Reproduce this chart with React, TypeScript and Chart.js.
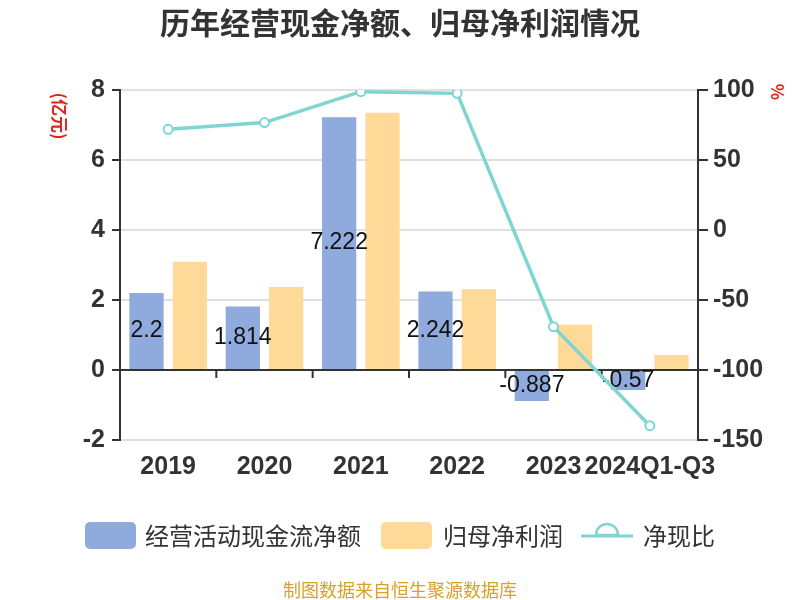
import React, { useEffect, useRef } from "react";
import { Chart, registerables } from "chart.js";

Chart.register(...registerables);

const titleText = "历年经营现金净额、归母净利润情况";
const categories = ["2019", "2020", "2021", "2022", "2023", "2024Q1-Q3"];
const cashFlowLabel = "经营活动现金流净额";
const netProfitLabel = "归母净利润";
const ratioLabel = "净现比";
const cashFlow = [2.2, 1.814, 7.222, 2.242, -0.887, -0.57];
const netProfit = [3.09, 2.37, 7.35, 2.31, 1.29, 0.43];
const cashRatio = [71.9, 76.7, 98.8, 97.6, -69.1, -139.8];
const leftAxisRange = [-2, 8, 2];
const rightAxisRange = [-150, 100, 50];
const leftUnit = "(亿元)";
const rightUnit = "%";
const footerText = "制图数据来自恒生聚源数据库";

const BLUE = "#8faadc";
const ORANGE = "#ffd998";
const TEAL = "#7fd5d2";
const DARK = "#333333";
const GRID = "#e0e0e0";
const NUM_FONT = '"Liberation Sans", Arial, sans-serif';
const CJK_FONT = '"Noto Sans CJK SC", "Noto Sans", sans-serif';

const decorPlugin = {
  id: "decor",
  beforeDatasetsDraw(chart: any) {
    const ctx = chart.ctx;
    const xs = chart.scales.x;
    const ys = chart.scales.y;
    const y0 = ys.getPixelForValue(0);
    ctx.save();
    ctx.strokeStyle = DARK;
    ctx.lineWidth = 2;
    for (let i = 1; i < categories.length; i++) {
      const x = (xs.getPixelForValue(i - 1) + xs.getPixelForValue(i)) / 2;
      ctx.beginPath();
      ctx.moveTo(x, y0);
      ctx.lineTo(x, y0 + 8);
      ctx.stroke();
    }
    ctx.restore();
  },
  afterDatasetDraw(chart: any, args: any) {
    if (args.index !== 0) return;
    const meta = chart.getDatasetMeta(0);
    const ctx = chart.ctx;
    ctx.save();
    ctx.font = `23px ${NUM_FONT}`;
    ctx.fillStyle = "#111111";
    ctx.textAlign = "center";
    ctx.textBaseline = "middle";
    meta.data.forEach((el: any, i: number) => {
      const p = el.getProps(["x", "y", "base"], true);
      ctx.fillText(String(cashFlow[i]), p.x, (p.y + p.base) / 2);
    });
    ctx.restore();
  },
  afterDraw(chart: any) {
    const ctx = chart.ctx;
    ctx.save();
    // title
    ctx.font = `bold 30px ${CJK_FONT}`;
    ctx.fillStyle = DARK;
    ctx.textAlign = "center";
    ctx.textBaseline = "middle";
    ctx.fillText(titleText, 400, 23);

    // unit labels (rotated)
    ctx.fillStyle = "#e3231b";
    ctx.font = `bold 17px ${CJK_FONT}`;
    ctx.save();
    ctx.translate(59, 116);
    ctx.rotate(Math.PI / 2);
    ctx.fillText(leftUnit, 0, 0);
    ctx.restore();
    ctx.save();
    ctx.translate(777, 92);
    ctx.rotate(Math.PI / 2);
    ctx.fillText(rightUnit, 0, 0);
    ctx.restore();

    // legend
    const ly = 535.5;
    const rr = (x: number, y: number, w: number, h: number, r: number, c: string) => {
      ctx.fillStyle = c;
      ctx.beginPath();
      if (ctx.roundRect) ctx.roundRect(x, y, w, h, r);
      else ctx.rect(x, y, w, h);
      ctx.fill();
    };
    ctx.textAlign = "left";
    ctx.textBaseline = "middle";
    ctx.font = `24px ${CJK_FONT}`;
    rr(85, 522, 51, 27, 5, BLUE);
    ctx.fillStyle = DARK;
    ctx.fillText(cashFlowLabel, 145, ly);
    rr(381, 522, 51, 27, 5, ORANGE);
    ctx.fillStyle = DARK;
    ctx.fillText(netProfitLabel, 443, ly);
    // line icon
    ctx.strokeStyle = TEAL;
    ctx.lineWidth = 3;
    ctx.beginPath();
    ctx.moveTo(581, 536);
    ctx.lineTo(633, 536);
    ctx.stroke();
    ctx.beginPath();
    ctx.arc(607, 535, 11, Math.PI, 0);
    ctx.closePath();
    ctx.fillStyle = "#ffffff";
    ctx.fill();
    ctx.lineWidth = 2.5;
    ctx.stroke();
    ctx.fillStyle = DARK;
    ctx.fillText(ratioLabel, 643, ly);

    // footer
    ctx.textAlign = "center";
    ctx.font = `18px ${CJK_FONT}`;
    ctx.fillStyle = "#d9a02a";
    ctx.fillText(footerText, 400, 590);
    ctx.restore();
  },
};

export default function App() {
  const canvasRef = useRef<HTMLCanvasElement | null>(null);

  useEffect(() => {
    if (!canvasRef.current) return;
    const chart = new Chart(canvasRef.current, {
      type: "bar",
      data: {
        labels: categories,
        datasets: [
          {
            type: "bar",
            label: cashFlowLabel,
            data: cashFlow,
            backgroundColor: BLUE,
            yAxisID: "y",
            order: 1,
            categoryPercentage: 0.9,
            barPercentage: 0.79,
          },
          {
            type: "bar",
            label: netProfitLabel,
            data: netProfit,
            backgroundColor: ORANGE,
            yAxisID: "y",
            order: 1,
            categoryPercentage: 0.9,
            barPercentage: 0.79,
          },
          {
            type: "line",
            label: ratioLabel,
            data: cashRatio,
            borderColor: TEAL,
            borderWidth: 3.5,
            pointRadius: 4.5,
            pointBackgroundColor: "#ffffff",
            pointBorderColor: TEAL,
            pointBorderWidth: 2,
            tension: 0,
            yAxisID: "y1",
            order: 0,
          } as any,
        ],
      },
      options: {
        responsive: false,
        animation: false,
        layout: { padding: { top: 90, left: 0, right: 0, bottom: 0 } },
        plugins: {
          legend: { display: false },
          tooltip: { enabled: false },
          title: { display: false },
        },
        scales: {
          x: {
            grid: { display: false },
            border: { display: false },
            ticks: {
              color: DARK,
              font: { size: 25, family: NUM_FONT, weight: "bold" },
              padding: 4,
              maxRotation: 0,
              autoSkip: false,
            },
            afterFit: (s: any) => {
              s.height = 160;
            },
          },
          y: {
            position: "left",
            min: leftAxisRange[0],
            max: leftAxisRange[1],
            ticks: {
              stepSize: leftAxisRange[2],
              color: DARK,
              font: { size: 25, family: NUM_FONT, weight: "bold" },
              padding: 7,
            },
            grid: {
              color: (c: any) => (c.tick && c.tick.value === 0 ? DARK : GRID),
              lineWidth: 2,
              tickColor: DARK,
              tickLength: 8,
            },
            border: { display: true, color: DARK, width: 2 },
            afterFit: (s: any) => {
              s.width = 120;
            },
          },
          y1: {
            position: "right",
            min: rightAxisRange[0],
            max: rightAxisRange[1],
            ticks: {
              stepSize: rightAxisRange[2],
              color: DARK,
              font: { size: 25, family: NUM_FONT, weight: "bold" },
              padding: 5,
            },
            grid: {
              drawOnChartArea: false,
              color: DARK,
              lineWidth: 2,
              tickLength: 10,
            },
            border: { display: true, color: DARK, width: 2 },
            afterFit: (s: any) => {
              s.width = 102;
            },
          },
        },
      } as any,
      plugins: [decorPlugin as any],
    });
    return () => chart.destroy();
  }, []);

  return (
    <div style={{ position: "fixed", left: 0, top: 0, width: 800, height: 600, background: "#ffffff" }}>
      <canvas ref={canvasRef} width={800} height={600} style={{ width: 800, height: 600 }} />
    </div>
  );
}
